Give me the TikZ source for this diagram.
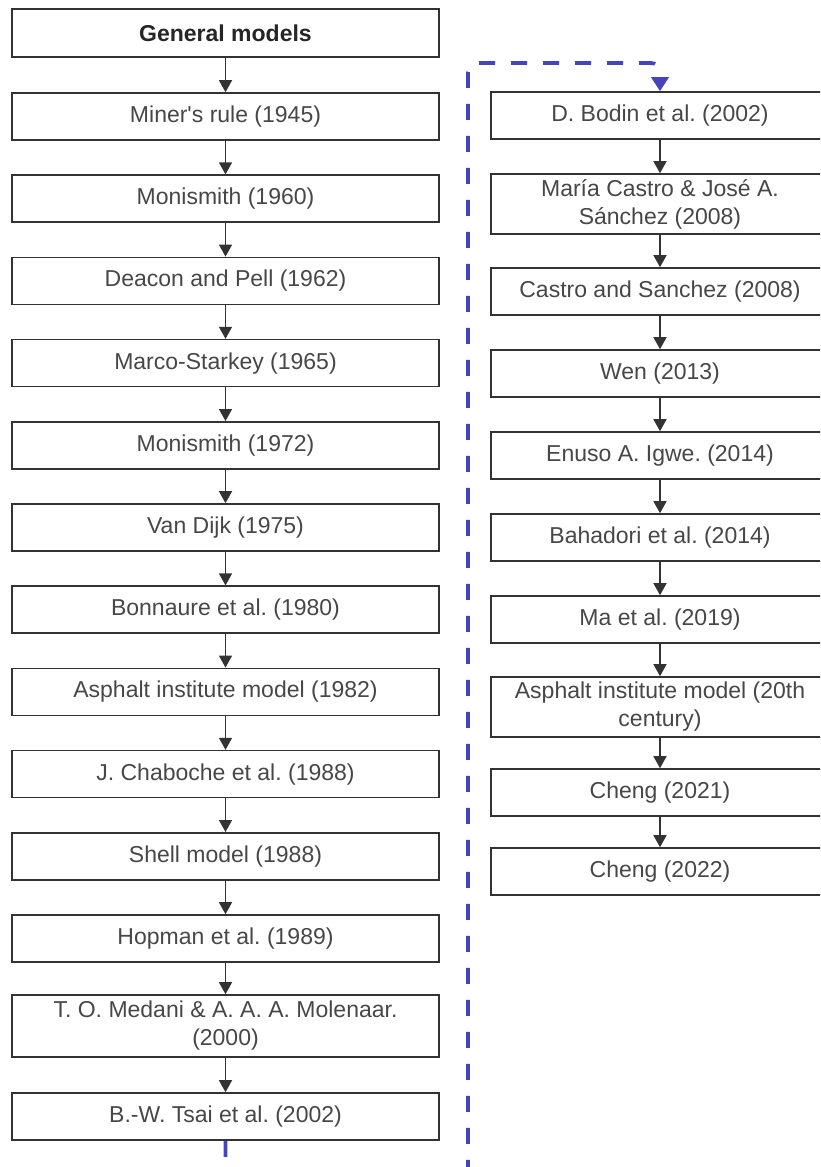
\documentclass[tikz,border=0pt]{standalone}
\usepackage{fontspec}
\setmainfont{Liberation Sans}
\usetikzlibrary{arrows.meta}
\definecolor{boxline}{HTML}{333333}
\definecolor{txt}{HTML}{474747}
\definecolor{linkblue}{HTML}{4545BB}
\frenchspacing

\begin{document}
\begin{tikzpicture}[x=1pt,y=-1pt,
  model/.style={draw=boxline, line width=1.6pt, fill=white, text=txt,
    font=\fontsize{23}{28}\selectfont, align=center, inner sep=0pt,
    minimum height=47pt},
  lbox/.style={model, minimum width=427pt},
  rbox/.style={model, minimum width=338pt},
  flow/.style={draw=boxline, line width=1.4pt, -{Triangle[width=13pt,length=12pt]}},
  jump/.style={draw=linkblue, line width=3.8pt, dash pattern=on 16pt off 16pt,
    rounded corners=9pt, -{Triangle[width=17pt,length=14pt]}}
]
\useasboundingbox (0,0) rectangle (820,1167);
\clip (0,0) rectangle (820,1167);
\fill[white] (0,0) rectangle (820,1167);

% left column
\node[lbox, minimum height=48pt, text=black!85, font=\fontsize{23}{28}\selectfont\bfseries] (general) at (225.5,33) {General models};
\node[lbox] (miner)  at (225.5,116.5) {Miner\textquotesingle s rule (1945)};
\node[lbox] (moni60) at (225.5,198.7) {Monismith (1960)};
\node[lbox] (deacon) at (225.5,280.9) {Deacon and Pell (1962)};
\node[lbox] (marco)  at (225.5,363.1) {Marco-Starkey (1965)};
\node[lbox] (moni72) at (225.5,445.3) {Monismith (1972)};
\node[lbox] (dijk)   at (225.5,527.5) {Van Dijk (1975)};
\node[lbox] (bonn)   at (225.5,609.7) {Bonnaure et al. (1980)};
\node[lbox] (ai82)   at (225.5,691.9) {Asphalt institute model (1982)};
\node[lbox] (chab)   at (225.5,774.1) {J. Chaboche et al. (1988)};
\node[lbox] (shell)  at (225.5,856.3) {Shell model (1988)};
\node[lbox] (hopman) at (225.5,938.5) {Hopman et al. (1989)};
\node[lbox, minimum height=62pt] (medani) at (225.5,1026) {T. O. Medani \& A. A. A. Molenaar.\\(2000)};
\node[lbox] (tsai)   at (225.5,1116.5) {B.-W. Tsai et al. (2002)};

% right column
\node[rbox] (bodin)  at (660,115.5) {D. Bodin et al. (2002)};
\node[rbox, minimum height=60pt] (castro) at (660,204) {María Castro \& José A.\\Sánchez (2008)};
\node[rbox] (cs)     at (660,291.5) {Castro and Sanchez (2008)};
\node[rbox] (wen)    at (660,373.5) {Wen (2013)};
\node[rbox] (igwe)   at (660,455.5) {Enuso A. Igwe. (2014)};
\node[rbox] (bahad)  at (660,537.5) {Bahadori et al. (2014)};
\node[rbox] (ma)     at (660,619.5) {Ma et al. (2019)};
\node[rbox, minimum height=60pt] (ai20) at (660,707) {Asphalt institute model (20th\\century)};
\node[rbox] (cheng21) at (660,792.5) {Cheng (2021)};
\node[rbox] (cheng22) at (660,871.5) {Cheng (2022)};

% sequence arrows
\foreach \a/\b in {general/miner, miner/moni60, moni60/deacon, deacon/marco,
  marco/moni72, moni72/dijk, dijk/bonn, bonn/ai82, ai82/chab, chab/shell,
  shell/hopman, hopman/medani, medani/tsai,
  bodin/castro, castro/cs, cs/wen, wen/igwe, igwe/bahad, bahad/ma, ma/ai20,
  ai20/cheng21, cheng21/cheng22}
  \draw[flow] (\a.south) -- (\b.north);

% continuation from the left column to the right column
\coordinate (loopbl) at (468,1185);
\coordinate (looptl) at (468,63);
\draw[jump] (tsai.south) |- (loopbl) -- (looptl) -| (bodin.north);
\end{tikzpicture}
\end{document}
